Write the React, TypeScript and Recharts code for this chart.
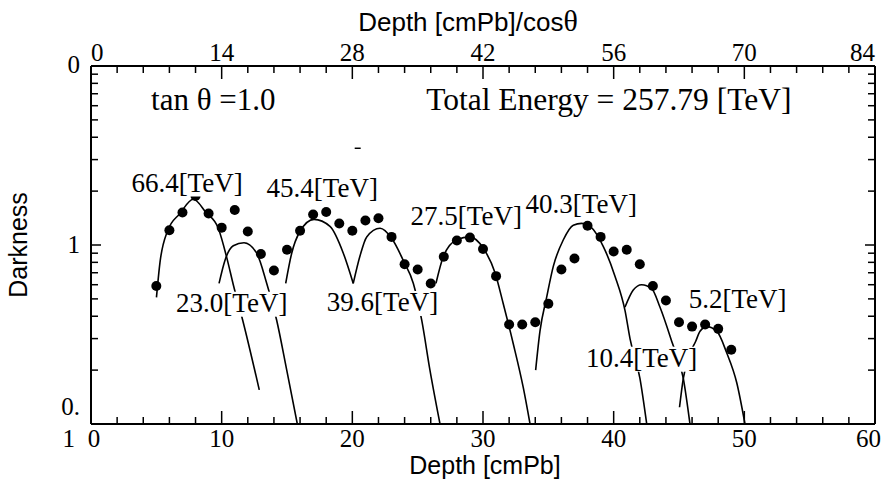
import React from "react";
import {
  ComposedChart,
  Line,
  Scatter,
  XAxis,
  YAxis,
  ReferenceDot,
  Label,
} from "recharts";

// measured darkness per depth (cmPb)
const dotDepth = [
  5, 6, 7, 8, 9, 10, 11, 12, 13, 14, 15, 16, 17, 18, 19, 20, 21, 22, 23, 24, 25,
  26, 27, 28, 29, 30, 31, 32, 33, 34, 35, 36, 37, 38, 39, 40, 41, 42, 43, 44,
  45, 46, 47, 48, 49,
];
const dotDark = [
  0.59, 1.21, 1.52, 1.88, 1.5, 1.25, 1.57, 1.19, 0.89, 0.72, 0.94, 1.2, 1.48,
  1.53, 1.32, 1.2, 1.37, 1.41, 1.11, 0.78, 0.73, 0.61, 0.86, 1.06, 1.1, 0.95,
  0.67, 0.36, 0.36, 0.37, 0.47, 0.73, 0.84, 1.28, 1.11, 0.92, 0.94, 0.78, 0.59,
  0.49, 0.37, 0.35, 0.36, 0.34, 0.26,
];
const dots = dotDepth.map((x, i) => ({ x, y: dotDark[i] }));

// fitted shower curves
const curve664 = [
  { x: 5.01, y: 0.51 }, { x: 5.28, y: 0.8 }, { x: 5.84, y: 1.19 },
  { x: 6.81, y: 1.5 }, { x: 7.83, y: 1.8 }, { x: 8.8, y: 1.52 },
  { x: 9.74, y: 1.24 }, { x: 10.39, y: 0.85 }, { x: 10.89, y: 0.6 },
  { x: 11.61, y: 0.38 }, { x: 12.88, y: 0.155 },
];
const curve230 = [
  { x: 9.8, y: 0.61 }, { x: 10.25, y: 0.82 }, { x: 10.89, y: 0.99 },
  { x: 11.71, y: 1.03 }, { x: 12.68, y: 0.9 }, { x: 13.45, y: 0.61 },
  { x: 14.21, y: 0.38 }, { x: 14.98, y: 0.2 }, { x: 15.79, y: 0.1 },
];
const curve454 = [
  { x: 14.9, y: 0.61 }, { x: 15.36, y: 0.9 }, { x: 15.99, y: 1.19 },
  { x: 17.07, y: 1.39 }, { x: 18.29, y: 1.27 }, { x: 19.31, y: 0.9 },
  { x: 20.07, y: 0.61 },
];
const curve396 = [
  { x: 20.07, y: 0.61 }, { x: 20.59, y: 0.87 }, { x: 21.1, y: 1.11 },
  { x: 22.12, y: 1.24 }, { x: 23.01, y: 1.09 }, { x: 23.9, y: 0.82 },
  { x: 24.67, y: 0.61 }, { x: 25.31, y: 0.38 }, { x: 25.94, y: 0.2 },
  { x: 26.71, y: 0.1 },
];
const curve275 = [
  { x: 26.4, y: 0.61 }, { x: 26.96, y: 0.86 }, { x: 27.99, y: 1.07 },
  { x: 29.0, y: 1.11 }, { x: 30.02, y: 0.96 }, { x: 30.92, y: 0.7 },
  { x: 31.55, y: 0.47 }, { x: 32.32, y: 0.28 }, { x: 33.08, y: 0.16 },
  { x: 33.6, y: 0.1 },
];
const curve403 = [
  { x: 34.03, y: 0.2 }, { x: 34.36, y: 0.33 }, { x: 34.87, y: 0.51 },
  { x: 35.38, y: 0.76 }, { x: 36.15, y: 1.07 }, { x: 36.91, y: 1.29 },
  { x: 37.55, y: 1.32 }, { x: 38.19, y: 1.27 }, { x: 39.21, y: 0.98 },
  { x: 40.1, y: 0.67 }, { x: 40.87, y: 0.43 }, { x: 41.25, y: 0.3 },
  { x: 42.01, y: 0.18 }, { x: 42.53, y: 0.1 },
];
const curve104 = [
  { x: 40.87, y: 0.45 }, { x: 41.5, y: 0.56 }, { x: 42.14, y: 0.6 },
  { x: 42.91, y: 0.57 }, { x: 43.54, y: 0.45 }, { x: 44.44, y: 0.29 },
  { x: 45.33, y: 0.18 }, { x: 45.84, y: 0.1 },
];
const curve52 = [
  { x: 45.04, y: 0.124 }, { x: 45.33, y: 0.18 }, { x: 45.76, y: 0.24 },
  { x: 46.28, y: 0.29 }, { x: 46.61, y: 0.33 }, { x: 47.12, y: 0.35 },
  { x: 47.89, y: 0.33 }, { x: 48.65, y: 0.25 }, { x: 49.42, y: 0.17 },
  { x: 50.05, y: 0.1 },
];
const curves = [curve664, curve230, curve454, curve396, curve275, curve403, curve104, curve52];

const energyLabels = [
  { x: 7.35, y: 1.99, text: "66.4[TeV]" },
  { x: 17.7, y: 1.86, text: "45.4[TeV]" },
  { x: 10.77, y: 0.424, text: "23.0[TeV]" },
  { x: 22.31, y: 0.428, text: "39.6[TeV]" },
  { x: 28.72, y: 1.29, text: "27.5[TeV]" },
  { x: 37.52, y: 1.5, text: "40.3[TeV]" },
  { x: 42.14, y: 0.209, text: "10.4[TeV]" },
  { x: 49.49, y: 0.443, text: "5.2[TeV]" },
];

const bottomTicks = Array.from({ length: 31 }, (_, i) => i * 2);
const topTicks = Array.from({ length: 31 }, (_, i) => Math.round(i * 280) / 100);
const yTicks = [0.1, 0.2, 0.3, 0.4, 0.5, 0.6, 0.7, 0.8, 0.9, 1, 2, 3, 4, 5, 6, 7, 8, 9, 10];

// top axis: depth / cos(theta), drawn over the same width (0-60 -> 0-84)
const slant = 84 / 60;

const W = 882;
const H = 480;
const RIGHT_W = 7;

const serif = "'Liberation Serif', 'Times New Roman', serif";
const sans = "'Liberation Sans', Arial, sans-serif";

const LeftTick = (props: any) => {
  const { x, y, payload } = props;
  const v = payload.value;
  const major = v === 0.1 || v === 1 || v === 10;
  const len = major ? 10 : 7;
  const xr = W - RIGHT_W;
  return (
    <g>
      <line x1={x} x2={x + len} y1={y} y2={y} stroke="#000" strokeWidth={1.5} />
      {/* mirrored tick on the right frame */}
      <line x1={xr} x2={xr - len} y1={y} y2={y} stroke="#000" strokeWidth={1.5} />
      <g fontFamily={serif} fontSize={25} fill="#000" textAnchor="end">
        {v === 10 && <text x={x - 11} y={y + 7}>0</text>}
        {v === 1 && <text x={x - 11} y={y + 8}>1</text>}
        {v === 0.1 && (
          <>
            <text x={x - 11} y={y - 9}>0.</text>
            <text x={x - 16} y={y + 23}>1</text>
          </>
        )}
      </g>
    </g>
  );
};

const BottomTick = (props: any) => {
  const { x, y, payload } = props;
  const v = payload.value;
  const major = v % 10 === 0;
  let anchor = "middle";
  let tx = x;
  if (v === 0) tx = x + 3;
  if (v === 60) {
    anchor = "end";
    tx = x + 6;
  }
  return (
    <g>
      <line x1={x} x2={x} y1={y} y2={y - (major ? 13 : 7)} stroke="#000" strokeWidth={1.5} />
      {major && (
        <text x={tx} y={y + 23} textAnchor={anchor} fontFamily={serif} fontSize={25} fill="#000">
          {v}
        </text>
      )}
    </g>
  );
};

const TopTick = (props: any) => {
  const { x, y, payload } = props;
  const v = payload.value;
  const major = Math.abs(v / 14 - Math.round(v / 14)) < 1e-6;
  const anchor = v === 0 ? "start" : v === 84 ? "end" : "middle";
  return (
    <g>
      <line x1={x} x2={x} y1={y} y2={y + (major ? 13 : 7)} stroke="#000" strokeWidth={1.5} />
      {major && (
        <text x={x} y={y - 5} textAnchor={anchor} fontFamily={serif} fontSize={25} fill="#000">
          {Math.round(v)}
        </text>
      )}
    </g>
  );
};

const EnergyBox = ({ cx, cy, text }: any) => {
  const w = text.length * 12.6;
  return (
    <g>
      <rect x={cx - w / 2} y={cy - 20} width={w} height={25} fill="#fff" />
      <text x={cx} y={cy} textAnchor="middle" fontFamily={serif} fontSize={27} fill="#000">
        {text}
      </text>
    </g>
  );
};

export default function App() {
  return (
    <div style={{ position: "absolute", left: 0, top: 0, background: "#fff" }}>
      <ComposedChart width={W} height={H} margin={{ top: 0, right: 0, bottom: 0, left: 0 }}>
        <XAxis
          xAxisId="bot"
          dataKey="x"
          type="number"
          domain={[0, 60]}
          ticks={bottomTicks}
          interval={0}
          allowDataOverflow
          height={56}
          tickSize={0}
          tickMargin={0}
          tickLine={false}
          tick={<BottomTick />}
          axisLine={{ stroke: "#000", strokeWidth: 2 }}
        >
          <Label
            content={({ viewBox }: any) => (
              <text
                x={viewBox.x + viewBox.width / 2 + 2}
                y={viewBox.y + 50}
                textAnchor="middle"
                fontFamily={sans}
                fontSize={25}
                fill="#000"
              >
                Depth [cmPb]
              </text>
            )}
          />
        </XAxis>
        <XAxis
          xAxisId="top"
          orientation="top"
          dataKey={(d: any) => d.x * slant}
          type="number"
          domain={[0, 84]}
          ticks={topTicks}
          interval={0}
          allowDataOverflow
          height={66}
          tickSize={0}
          tickMargin={0}
          tickLine={false}
          tick={<TopTick />}
          axisLine={{ stroke: "#000", strokeWidth: 2 }}
        >
          <Label
            content={({ viewBox }: any) => (
              <text
                x={viewBox.x + viewBox.width / 2 - 15}
                y={31}
                textAnchor="middle"
                fontFamily={sans}
                fontSize={26}
                fill="#000"
              >
                Depth [cmPb]/cos<tspan fontFamily={serif} fontSize={30}>θ</tspan>
              </text>
            )}
          />
        </XAxis>
        <YAxis
          yAxisId="l"
          scale="log"
          type="number"
          domain={[0.1, 10]}
          ticks={yTicks}
          interval={0}
          allowDataOverflow
          width={91}
          tickSize={0}
          tickMargin={0}
          tickLine={false}
          tick={<LeftTick />}
          axisLine={{ stroke: "#000", strokeWidth: 2 }}
        >
          <Label
            content={({ viewBox }: any) => (
              <text
                x={27}
                y={viewBox.y + viewBox.height / 2}
                transform={`rotate(-90, 27, ${viewBox.y + viewBox.height / 2})`}
                textAnchor="middle"
                fontFamily={sans}
                fontSize={25}
                fill="#000"
              >
                Darkness
              </text>
            )}
          />
        </YAxis>
        <YAxis
          yAxisId="r"
          orientation="right"
          scale="log"
          type="number"
          domain={[0.1, 10]}
          ticks={yTicks}
          interval={0}
          allowDataOverflow
          width={RIGHT_W}
          tick={false}
          tickLine={false}
          axisLine={{ stroke: "#000", strokeWidth: 2 }}
        />
        {curves.map((c, i) => (
          <Line
            key={i}
            xAxisId="bot"
            yAxisId="l"
            data={c}
            dataKey="y"
            type="monotone"
            stroke="#000"
            strokeWidth={1.6}
            dot={false}
            activeDot={false}
            isAnimationActive={false}
          />
        ))}
        <Scatter
          xAxisId="top"
          yAxisId="r"
          data={dots}
          dataKey="y"
          fill="#000"
          shape={(p: any) => <circle cx={p.cx} cy={p.cy} r={5} fill="#000" />}
          isAnimationActive={false}
        />
        {energyLabels.map((l) => (
          <ReferenceDot
            key={l.text}
            xAxisId="bot"
            yAxisId="l"
            x={l.x}
            y={l.y}
            r={0}
            ifOverflow="visible"
            shape={(p: any) => <EnergyBox cx={p.cx} cy={p.cy} text={l.text} />}
          />
        ))}
        <ReferenceDot
          xAxisId="bot"
          yAxisId="l"
          x={4.6}
          y={5.65}
          r={0}
          ifOverflow="visible"
          shape={(p: any) => (
            <text x={p.cx} y={p.cy} fontFamily={serif} fontSize={31} fill="#000">
              tan θ =1.0
            </text>
          )}
        />
        <ReferenceDot
          xAxisId="bot"
          yAxisId="l"
          x={25.65}
          y={5.65}
          r={0}
          ifOverflow="visible"
          shape={(p: any) => (
            <text x={p.cx} y={p.cy} fontFamily={serif} fontSize={31.5} fill="#000">
              Total Energy = 257.79 [TeV]
            </text>
          )}
        />
        <ReferenceDot
          xAxisId="bot"
          yAxisId="l"
          x={20.41}
          y={3.47}
          r={0}
          ifOverflow="visible"
          shape={(p: any) => (
            <line x1={p.cx - 3} x2={p.cx + 3} y1={p.cy} y2={p.cy} stroke="#000" strokeWidth={1.5} />
          )}
        />
      </ComposedChart>
    </div>
  );
}
